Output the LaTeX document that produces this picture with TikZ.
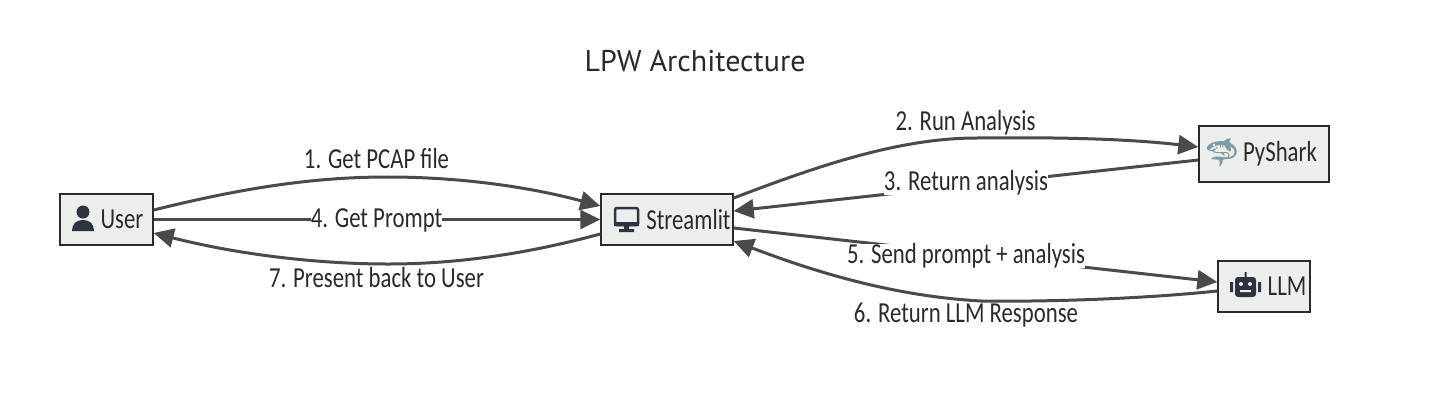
\documentclass[tikz,border=0pt]{standalone}
\usepackage{fontspec}
\setmainfont[FakeStretch=0.785]{Carlito}
\newfontfamily\titlefont{PT Sans}
\newfontfamily\emojifont{Noto Emoji}
\usetikzlibrary{arrows.meta,positioning}
\definecolor{boxfill}{HTML}{ECEEEC}
\definecolor{linegray}{HTML}{4A4A4A}
\definecolor{inkgray}{HTML}{2A2A2A}
\definecolor{iconblue}{HTML}{2B3440}
\definecolor{sharkgray}{HTML}{7F9CA3}
\tikzset{
  box/.style={draw=inkgray,fill=boxfill,line width=1.4pt,inner sep=0pt,text=inkgray,font=\fontsize{29}{30}\selectfont},
  flow/.style={draw=linegray,line width=3pt,-{Triangle[length=20pt,width=19pt]}},
  lab/.style={fill=white,inner sep=0pt,text=inkgray,font=\fontsize{29}{30}\selectfont}
}
\begin{document}
\begin{tikzpicture}[x=1pt,y=-1pt]
  \useasboundingbox (0,0) rectangle (1456,402);
  \fill[white] (0,0) rectangle (1456,402);
  \node[text=inkgray,font=\titlefont\fontsize{30}{32}\selectfont] (title) at (695,61) {LPW Architecture};
  % boxes
  \node[box,minimum width=93pt,minimum height=51pt] (user) at (106.5,219.5) {\hspace*{31pt}User};
  \node[box,minimum width=132pt,minimum height=51pt] (streamlit) at (667,219.5) {\hspace*{43pt}Streamlit};
  \node[box,minimum width=130pt,minimum height=56pt] (pyshark) at (1264,154) {\hspace*{32pt}PyShark};
  \node[box,minimum width=92pt,minimum height=51pt] (llm) at (1264,286.5) {\hspace*{46pt}LLM};
  % connectors
  \draw[flow] ([yshift=9.5pt]user.east) .. controls (250,186) and (320,177) .. (388,177)
    .. controls (460,177) and (530,187) .. ([yshift=13.5pt]streamlit.west);
  \draw[flow] (user.east) to (streamlit.west);
  \draw[flow] ([yshift=-14.5pt]streamlit.west) .. controls (530,253) and (460,264) .. (388,264)
    .. controls (320,264) and (240,255) .. ([yshift=-13.5pt]user.east);
  \draw[flow] ([yshift=21.5pt]streamlit.east) .. controls (820,165) and (900,138) .. (977,138)
    .. controls (1060,137) and (1130,139) .. ([yshift=7pt]pyshark.west);
  \draw[flow] ([yshift=-6pt]pyshark.west) to ([yshift=8.5pt]streamlit.east);
  \draw[flow] ([yshift=-8.5pt]streamlit.east) to ([yshift=4.5pt]llm.west);
  \draw[flow] ([yshift=-4.5pt]llm.west) .. controls (1150,298) and (1060,302) .. (981,301)
    .. controls (890,296) and (810,270) .. ([yshift=-21.5pt]streamlit.east);
  % labels
  \node[lab] (getpcap) at (376.5,159) {1. Get PCAP file};
  \node[lab] (getprompt) at (376.5,220) {4. Get Prompt};
  \node[lab] (present) at (376.5,278) {7. Present back to User};
  \node[lab] (runana) at (965.5,123) {2. Run Analysis};
  \node[lab] (retana) at (966,183) {3. Return analysis};
  \node[lab] (send) at (966,256) {5. Send prompt + analysis};
  \node[lab] (retllm) at (966,315) {6. Return LLM Response};
  % icons
  \fill[iconblue] (83,212) circle (6.5);
  \fill[iconblue] (72,231) .. controls (72,224) and (76,220) .. (83,220)
    .. controls (90,220) and (94,224) .. (94,231) -- cycle;
  \draw[iconblue,line width=2.5pt,rounded corners=2pt] (615,208) rectangle (638,225);
  \fill[iconblue] (614,222) rectangle (639,226) (624,226) rectangle (629,230) (619,229) rectangle (634,232);
  \node[text=sharkgray,inner sep=0pt,font=\emojifont\fontsize{28}{30}\selectfont] (sharkicon) at (1222,153) {🦈};
  \fill[iconblue,rounded corners=3pt] (1235,277) rectangle (1256,297);
  \fill[iconblue] (1230,282) rectangle (1233,292) (1258,282) rectangle (1261,292) (1244.5,272) rectangle (1246.5,277);
  \fill[boxfill] (1241,284) circle (2) (1250,284) circle (2) (1240,290) rectangle (1251,292);
\end{tikzpicture}
\end{document}
